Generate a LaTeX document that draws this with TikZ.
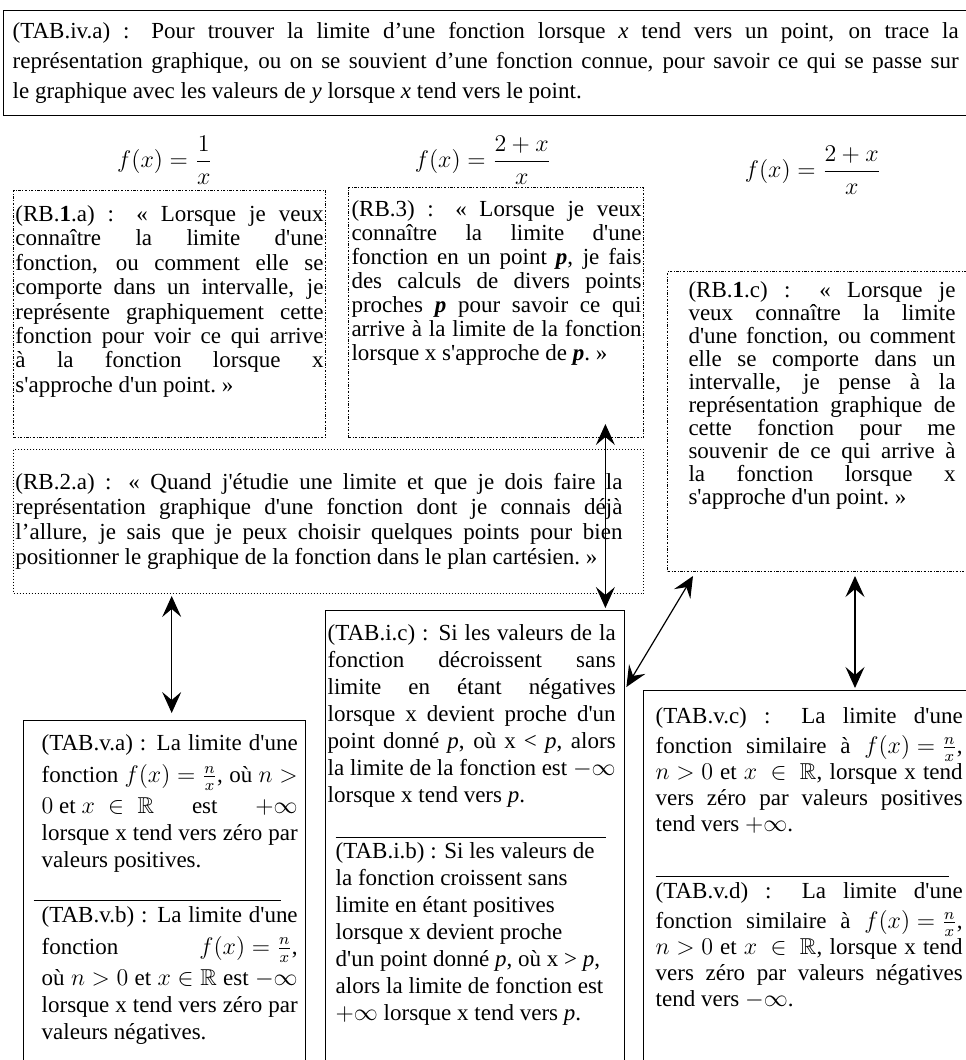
\documentclass[tikz,border=0pt]{standalone}
\usepackage{amsmath,amssymb}
\usepackage{fontspec}
\setmainfont{Liberation Serif}
\usetikzlibrary{arrows.meta}

\hyphenpenalty=10000
\exhyphenpenalty=10000
\thickmuskip=5mu
\medmuskip=4mu

% box content: width, height, left pad, first baseline, text width, line skip, text
\newcommand{\pave}[7]{%
  \begin{minipage}[t][#2][t]{#1}%
    \hspace*{#3}\parbox[t]{#5}{\setlength{\baselineskip}{#6}%
      \rule{0pt}{#4}\ignorespaces#7}%
  \end{minipage}}
% separator: shift, length, gap above, gap below
\newcommand{\trait}[4]{\par\vspace{\dimexpr#3-\baselineskip\relax}%
  \noindent\hspace*{#1}\rule{#2}{0.5pt}\par\vspace{\dimexpr#4-\baselineskip\relax}}
% extra room for lines with a fraction
\newcommand{\hautfrac}{\rule[-6.5pt]{0pt}{19pt}}
\newcommand{\basfrac}{\rule[-4pt]{0pt}{15.5pt}}
\newcommand{\ap}{\textquotesingle}

\tikzset{
  cadre/.style={draw, line width=0.7pt, anchor=north west, inner sep=0pt},
  pointille/.style={draw, line width=0.5pt, anchor=north west, inner sep=0pt,
    dash pattern=on 1.2pt off 0.8pt on 0.4pt off 0.8pt},
  pointillefin/.style={pointille, dash pattern=on 0.5pt off 1pt},
  formule/.style={inner sep=1pt},
  liaison/.style={line width=0.6pt,
    {Stealth[length=10.5pt,width=9.5pt,inset=4pt]}-{Stealth[length=10.5pt,width=9.5pt,inset=4pt]}}
}

\begin{document}
\begin{tikzpicture}[x=0.5pt,y=-0.5pt,
  every node/.style={font=\fontsize{11.5pt}{13.5pt}\selectfont}]
\useasboundingbox (0,0) rectangle (965,1060);

% top box
\node[cadre] (tabiva) at (3,10) {\pave{483.5pt}{52.5pt}{4.5pt}{14pt}{473pt}{15pt}{%
(TAB.iv.a) : Pour trouver la limite d’une fonction lorsque \textit{x} tend vers un point, on trace la\linebreak
représentation graphique, ou on se souvient d’une fonction connue, pour savoir ce qui se passe sur\linebreak
le graphique avec les valeurs de \textit{y} lorsque \textit{x} tend vers le point.}};

% formulas
\node[formule] (fa) at (165,160) {$f(x)=\dfrac{1}{x}$};
\node[formule] (fb) at (483,160) {$f(x)=\dfrac{2+x}{x}$};
\node[formule] (fc) at (813,170) {$f(x)=\dfrac{2+x}{x}$};

% dotted boxes
\node[pointille] (rbia) at (13,190) {\pave{156pt}{123.5pt}{1pt}{15.5pt}{154pt}{12.2pt}{%
(RB.\textbf{1}.a) : «~Lorsque je veux\linebreak
connaître la limite d\ap une\linebreak
fonction, ou comment elle se\linebreak
comporte dans un intervalle, je\linebreak
représente graphiquement cette\linebreak
fonction pour voir ce qui arrive\linebreak
à la fonction lorsque x\linebreak
s\ap approche d\ap un point.~»}};

\node[pointille] (rbthree) at (348,187) {\pave{147.5pt}{125pt}{1.5pt}{14.5pt}{145pt}{12pt}{%
(RB.3) : «~Lorsque je veux\linebreak
connaître la limite d\ap une\linebreak
fonction en un point \textbf{\textit{p}}, je fais\linebreak
des calculs de divers points\linebreak
proches \textbf{\textit{p}} pour savoir ce qui\linebreak
arrive à la limite de la fonction\linebreak
lorsque x s\ap approche de \textbf{\textit{p}}.~»}};

\node[pointille] (rbic) at (667,271) {\pave{155pt}{150pt}{10.5pt}{13pt}{133.5pt}{11.5pt}{%
(RB.\textbf{1}.c) : «~Lorsque je\linebreak
veux connaître la limite\linebreak
d\ap une fonction, ou comment\linebreak
elle se comporte dans un\linebreak
intervalle, je pense à la\linebreak
représentation graphique de\linebreak
cette fonction pour me\linebreak
souvenir de ce qui arrive à\linebreak
la fonction lorsque x\linebreak
s\ap approche d\ap un point.~»}};

\node[pointillefin] (rbiia) at (13,449) {\pave{315pt}{72pt}{1pt}{20pt}{303.5pt}{12.5pt}{%
(RB.2.a) : «~Quand j\ap étudie une limite et que je dois faire la\linebreak
représentation graphique d\ap une fonction dont je connais déjà\linebreak
l’allure, je sais que je peux choisir quelques points pour bien\linebreak
positionner le graphique de la fonction dans le plan cartésien.~»}};

% solid boxes
\node[cadre] (tabvab) at (23,720) {\pave{141pt}{175pt}{9pt}{15pt}{128pt}{13.5pt}{%
(TAB.v.a) : La limite d\ap une\linebreak
\hautfrac fonction $f(x)=\frac{n}{x}$, où $n>$\linebreak
\mbox{$0$ et $x\;\in\;\mathbb{R}$} est $+\infty$\linebreak
lorsque x tend vers zéro par\linebreak
valeurs positives.
\trait{-4pt}{123.5pt}{17pt}{10.5pt}
(TAB.v.b) : La limite d\ap une\linebreak
\hautfrac fonction $f(x)=\frac{n}{x}$,\linebreak
où $n>0$ et $x\in\mathbb{R}$ est $-\infty$\linebreak
lorsque x tend vers zéro par\linebreak
valeurs négatives.}};

\node[cadre] (tabic) at (325,610) {\pave{149.5pt}{230pt}{1pt}{15pt}{144pt}{13.5pt}{%
(TAB.i.c) : Si les valeurs de la\linebreak
fonction décroissent sans\linebreak
limite en étant négatives\linebreak
lorsque x devient proche d\ap un\linebreak
point donné \textit{p}, où x < \textit{p}, alors\linebreak
la limite de la fonction est $-\infty$\linebreak
lorsque x tend vers \textit{p}.
\trait{4pt}{135pt}{17.5pt}{10.5pt}
{\raggedright\leftskip=4pt
(TAB.i.b) : Si les valeurs de\\
la fonction croissent sans\\
limite en étant positives\\
lorsque x devient proche\\
d\ap un point donné \textit{p}, où x > \textit{p},\\
alors la limite de fonction est\\
$+\infty$ lorsque x tend vers \textit{p}.\par}}};

\node[cadre] (tabvcd) at (643,690) {\pave{170pt}{200pt}{6pt}{16.5pt}{153.5pt}{13pt}{%
(TAB.v.c) : La limite d\ap une\linebreak
\basfrac fonction similaire à $f(x)=\frac{n}{x}$,\linebreak
$n>0$ et $x\;\in\;\mathbb{R}$, lorsque x tend\linebreak
vers zéro par valeurs positives\linebreak
tend vers $+\infty$.
\trait{0pt}{146.5pt}{22.5pt}{11pt}
(TAB.v.d) : La limite d\ap une\linebreak
\basfrac fonction similaire à $f(x)=\frac{n}{x}$,\linebreak
$n>0$ et $x\;\in\;\mathbb{R}$, lorsque x tend\linebreak
vers zéro par valeurs négatives\linebreak
tend vers $-\infty$.}};

% arrows
\coordinate (ha) at ([xshift=3.5pt]tabvab.north);
\coordinate (ha2) at (ha |- rbiia.south);
\draw[liaison] ([yshift=-1pt]ha2) -- ([yshift=3.5pt]ha);

\coordinate (hb) at ([xshift=-10pt]tabic.north east);
\coordinate (hb2) at (hb |- rbthree.south);
\draw[liaison] ([yshift=7pt]hb2) -- ([yshift=1pt]hb);

\draw[liaison] ([xshift=13pt,yshift=-2pt]rbic.south west) -- ([xshift=0.5pt,yshift=-38.5pt]tabic.north east);

\coordinate (hd) at ([xshift=94pt]rbic.south west);
\coordinate (hd2) at (hd |- tabvcd.north);
\draw[liaison] ([yshift=-2pt]hd) -- ([yshift=1pt]hd2);
\end{tikzpicture}
\end{document}
